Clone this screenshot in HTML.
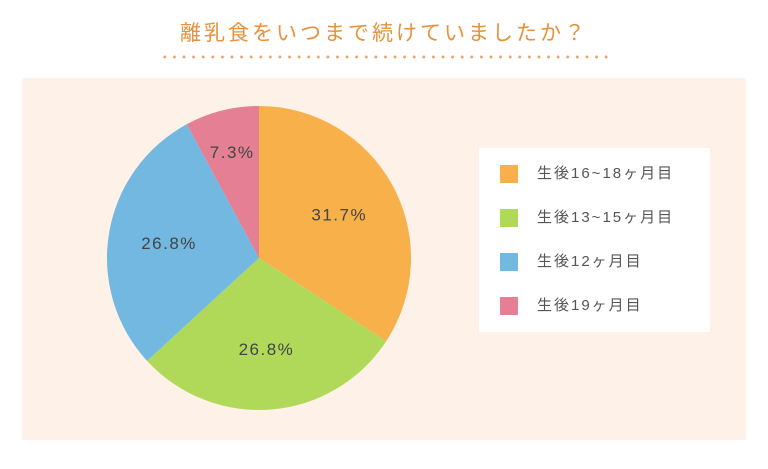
<!DOCTYPE html>
<html><head><meta charset="utf-8"><style>
body{margin:0;width:768px;height:469px;background:#fff;font-family:"Liberation Sans","Noto Sans CJK JP",sans-serif;position:relative;overflow:hidden}
#title{position:absolute;left:0;width:768px;top:17px;text-align:center;font-size:21px;color:#e8913c;letter-spacing:3px}
#dots{position:absolute;left:160px;top:55px;width:450px;height:4px;background-image:radial-gradient(circle,#e9a46a 1.3px,transparent 1.6px);background-size:9.6px 4px}
#panel{position:absolute;left:22px;top:78px;width:724px;height:362px;background:#fdf1e8}
#legend{position:absolute;left:479px;top:148px;width:231px;height:184px;background:#fff}
.row{position:absolute;left:21px;height:18px;font-size:15px;color:#555;letter-spacing:2px;line-height:18px}
.sw{position:absolute;left:0;top:0;width:18px;height:18px}
.row span{position:absolute;left:37px;white-space:nowrap}
</style></head><body>
<div id="title">離乳食をいつまで続けていましたか？</div>
<div id="dots"></div>
<div id="panel"></div>
<svg id="pie" width="768" height="469" style="position:absolute;left:0;top:0"></svg>
<div id="legend"></div>
<script>
const categories=["生後16~18ヶ月目","生後13~15ヶ月目","生後12ヶ月目","生後19ヶ月目"];
const values=[31.7,26.8,26.8,7.3];
const labels=["31.7%","26.8%","26.8%","7.3%"];
const colors=["#f7b04a","#b0d95a","#72b8e0","#e47f94"];
const cx=259,cy=258,r=152;
const svg=document.getElementById('pie');
const NS="http://www.w3.org/2000/svg";
const total=values.reduce((a,b)=>a+b,0);
let a0=0;
values.forEach((v,i)=>{
  const a1=a0+v/total*2*Math.PI;
  const p=(a)=>[cx+r*Math.sin(a),cy-r*Math.cos(a)];
  const [x0,y0]=p(a0),[x1,y1]=p(a1);
  const path=document.createElementNS(NS,'path');
  path.setAttribute('d',`M${cx},${cy}L${x0},${y0}A${r},${r} 0 ${a1-a0>Math.PI?1:0} 1 ${x1},${y1}Z`);
  path.setAttribute('fill',colors[i]);
  
  
  svg.appendChild(path);
  const am=(a0+a1)/2, lr=v/total<0.1?0.72:0.6;
  const t=document.createElementNS(NS,'text');
  t.setAttribute('x',cx+r*lr*Math.sin(am));
  t.setAttribute('y',cy-r*lr*Math.cos(am)+6);
  t.setAttribute('text-anchor','middle');
  t.setAttribute('font-size','17');
  t.setAttribute('letter-spacing','1.5');
  t.setAttribute('fill','#444');
  t.textContent=labels[i];
  
  
  svg.appendChild(t);
  a0=a1;
});
const lg=document.getElementById('legend');
categories.forEach((c,i)=>{
  const row=document.createElement('div');
  row.className='row';
  row.style.top=(17+i*44)+'px';
  row.innerHTML=`<div class="sw" style="background:${colors[i]}"></div><span>${c}</span>`;
  
  
  lg.appendChild(row);
});
</script>
</body></html>
